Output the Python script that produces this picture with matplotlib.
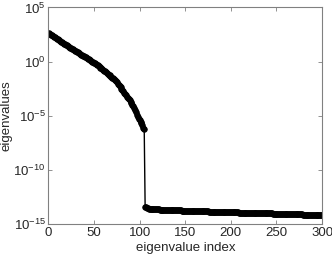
import numpy as np
import matplotlib
matplotlib.use("Agg")
import matplotlib.pyplot as plt
from matplotlib.ticker import FixedLocator, NullLocator

# log10 of eigenvalues, index 1..105 (upper branch)
log_upper = [
    2.62, 2.56, 2.49, 2.44, 2.38, 2.31, 2.26, 2.20, 2.13, 2.08,
    2.02, 1.95, 1.91, 1.84, 1.78, 1.72, 1.66, 1.60, 1.55, 1.49,
    1.44, 1.39, 1.33, 1.28, 1.23, 1.17, 1.12, 1.07, 1.01, 0.96,
    0.91, 0.85, 0.80, 0.75, 0.69, 0.64, 0.59, 0.54, 0.48, 0.43,
    0.38, 0.32, 0.27, 0.22, 0.16, 0.11, 0.05, 0.00, -0.06, -0.11,
    -0.17, -0.23, -0.29, -0.36, -0.42, -0.48, -0.55, -0.62, -0.70, -0.77,
    -0.84, -0.91, -0.98, -1.05, -1.12, -1.20, -1.27, -1.34, -1.41, -1.49,
    -1.56, -1.63, -1.71, -1.81, -1.92, -2.03, -2.15, -2.27, -2.39, -2.51,
    -2.63, -2.75, -2.87, -2.99, -3.11, -3.23, -3.35, -3.47, -3.59, -3.72,
    -3.85, -3.99, -4.13, -4.30, -4.48, -4.68, -4.90, -5.12, -5.30, -5.42,
    -5.55, -5.70, -5.90, -6.15, -6.25,
]
# log10 of eigenvalues, index 106..300 (numerical-noise floor)
log_lower = [
    -13.40, -13.47, -13.52, -13.55, -13.57, -13.59, -13.60, -13.61, -13.62, -13.63,
    -13.64, -13.64, -13.65, -13.65, -13.66, -13.66, -13.67, -13.67, -13.68, -13.68,
    -13.69, -13.69, -13.69, -13.70, -13.70, -13.71, -13.71, -13.71, -13.72, -13.72,
    -13.72, -13.73, -13.73, -13.73, -13.74, -13.74, -13.74, -13.75, -13.75, -13.75,
    -13.76, -13.76, -13.76, -13.77, -13.77, -13.77, -13.78, -13.78, -13.78, -13.79,
    -13.79, -13.79, -13.79, -13.80, -13.80, -13.80, -13.81, -13.81, -13.81, -13.81,
    -13.82, -13.82, -13.82, -13.83, -13.83, -13.83, -13.83, -13.84, -13.84, -13.84,
    -13.85, -13.85, -13.85, -13.85, -13.86, -13.86, -13.86, -13.86, -13.87, -13.87,
    -13.87, -13.88, -13.88, -13.88, -13.88, -13.89, -13.89, -13.89, -13.89, -13.90,
    -13.90, -13.90, -13.91, -13.91, -13.91, -13.91, -13.92, -13.92, -13.92, -13.92,
    -13.93, -13.93, -13.93, -13.94, -13.94, -13.94, -13.94, -13.95, -13.95, -13.95,
    -13.95, -13.96, -13.96, -13.96, -13.96, -13.97, -13.97, -13.97, -13.98, -13.98,
    -13.98, -13.98, -13.99, -13.99, -13.99, -13.99, -14.00, -14.00, -14.00, -14.01,
    -14.01, -14.01, -14.01, -14.02, -14.02, -14.02, -14.02, -14.03, -14.03, -14.03,
    -14.04, -14.04, -14.04, -14.04, -14.05, -14.05, -14.05, -14.05, -14.06, -14.06,
    -14.06, -14.07, -14.07, -14.07, -14.07, -14.08, -14.08, -14.08, -14.08, -14.09,
    -14.09, -14.09, -14.10, -14.10, -14.10, -14.10, -14.11, -14.11, -14.11, -14.11,
    -14.12, -14.12, -14.12, -14.13, -14.13, -14.13, -14.13, -14.14, -14.14, -14.14,
    -14.14, -14.15, -14.15, -14.15, -14.16, -14.16, -14.16, -14.16, -14.17, -14.17,
    -14.17, -14.17, -14.18, -14.18, -14.18,
]

x_ticks = [0, 50, 100, 150, 200, 250, 300]
y_tick_exps = [5, 0, -5, -10, -15]
x_label = "eigenvalue index"
y_label = "eigenvalues"

log_vals = np.array(log_upper + log_lower)
eigenvalues = 10.0 ** log_vals
index = np.arange(1, len(eigenvalues) + 1)

plt.rcParams["font.family"] = ["Liberation Sans", "DejaVu Sans"]
plt.rcParams["mathtext.default"] = "regular"
plt.rcParams["font.size"] = 9.5

fig = plt.figure(figsize=(3.32, 2.56), dpi=100)
ax = fig.add_axes([0.146, 0.125, 0.824, 0.846])

ax.semilogy(index, eigenvalues, color="black", linewidth=1.0,
            marker="o", markersize=4.0, markerfacecolor="black",
            markeredgecolor="black", markeredgewidth=0.6)

ax.set_xlim(0, 300)
ax.set_ylim(1e-15, 1e5)
ax.xaxis.set_major_locator(FixedLocator(x_ticks))
ax.yaxis.set_major_locator(FixedLocator([10.0 ** e for e in y_tick_exps]))
ax.yaxis.set_minor_locator(NullLocator())
ax.set_xticklabels([str(t) for t in x_ticks])
ax.set_yticklabels([r"$10^{%d}$" % e for e in y_tick_exps])

gray = "#808080"
for s in ax.spines.values():
    s.set_color(gray)
    s.set_linewidth(0.8)
ax.tick_params(direction="in", top=True, right=True, length=3,
               width=0.6, color=gray, labelcolor="#262626", pad=2)

ax.set_xlabel(x_label, color="#262626", labelpad=2)
ax.set_ylabel(y_label, color="#262626", labelpad=1)

fig.savefig("out.png", dpi=100)
